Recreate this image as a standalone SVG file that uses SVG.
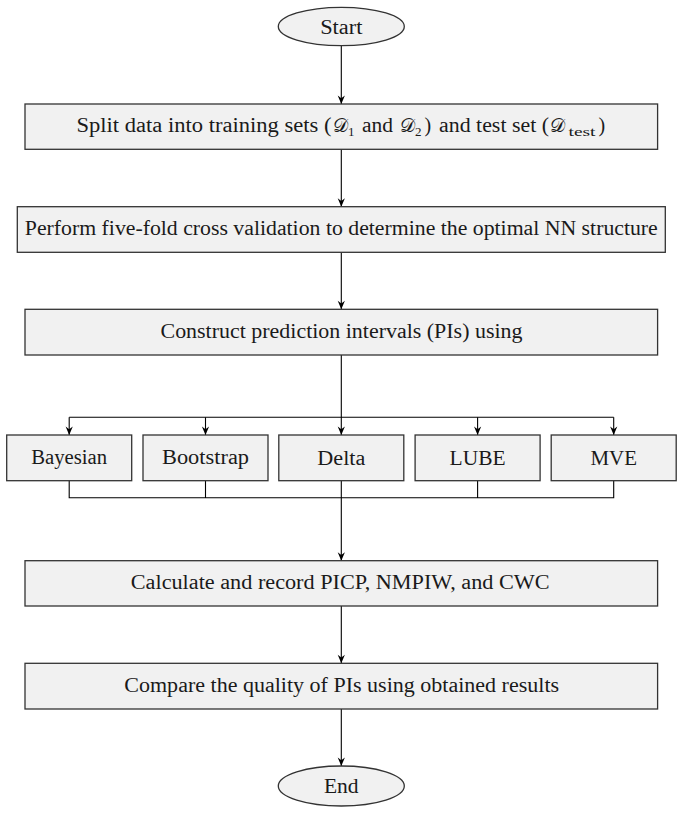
<svg xmlns="http://www.w3.org/2000/svg" width="683" height="813" viewBox="0 0 683 813">
<style>
  .box { fill:#f1f1f1; stroke:#333333; stroke-width:1.3; }
  .t { font-family:"Liberation Serif","Times New Roman",serif; font-size:20px; fill:#1a1a1a; }
  .sub { font-family:"Liberation Serif","Times New Roman",serif; font-size:13px; fill:#1a1a1a; }
  .cal { font-family:"DejaVu Serif","DejaVu Sans","Noto Sans",serif; font-size:19px; fill:#1a1a1a; }
  .c { fill:none; stroke:#000; stroke-width:1.1; }
</style>
<defs>
  <marker id="arr" viewBox="-9 -5 10 10" refX="0" refY="0" markerWidth="10" markerHeight="10" orient="auto" markerUnits="userSpaceOnUse">
    <path d="M0,0 L-8.5,-3.6 L-5.8,0 L-8.5,3.6 Z" fill="#000"/>
  </marker>
</defs>
<rect width="683" height="813" fill="#ffffff"/>

<g id="connectors">
  <line class="c" x1="341.3" y1="45.7" x2="341.3" y2="104" marker-end="url(#arr)"/>
  <line class="c" x1="341.3" y1="149.3" x2="341.3" y2="206.7" marker-end="url(#arr)"/>
  <line class="c" x1="341.3" y1="252.3" x2="341.3" y2="309.3" marker-end="url(#arr)"/>
  <line class="c" x1="341.3" y1="355" x2="341.3" y2="435" marker-end="url(#arr)"/>
  <line class="c" x1="69.2" y1="417.3" x2="613.7" y2="417.3"/>
  <line class="c" x1="69.2" y1="417.3" x2="69.2" y2="435" marker-end="url(#arr)"/>
  <line class="c" x1="205.5" y1="417.3" x2="205.5" y2="435" marker-end="url(#arr)"/>
  <line class="c" x1="477.6" y1="417.3" x2="477.6" y2="435" marker-end="url(#arr)"/>
  <line class="c" x1="613.7" y1="417.3" x2="613.7" y2="435" marker-end="url(#arr)"/>
  <path class="c" d="M69.2,480.7 V497.7 H613.7 V480.7 M205.5,480.7 V497.7 M477.6,480.7 V497.7"/>
  <line class="c" x1="341.3" y1="480.7" x2="341.3" y2="560.7" marker-end="url(#arr)"/>
  <line class="c" x1="341.3" y1="606" x2="341.3" y2="663.3" marker-end="url(#arr)"/>
  <line class="c" x1="341.3" y1="709" x2="341.3" y2="766" marker-end="url(#arr)"/>
</g>

<g id="start">
  <ellipse class="box" cx="341.3" cy="26.5" rx="63" ry="19.2"/>
  <text class="t" x="341.3" y="33.5" text-anchor="middle" textLength="42.3" lengthAdjust="spacingAndGlyphs">Start</text>
</g>

<g id="split">
  <rect class="box" x="25" y="104" width="632.6" height="45.3"/>
  <text class="t" x="76.5" y="132.3" textLength="255" lengthAdjust="spacingAndGlyphs">Split data into training sets (</text>
  <text class="cal" x="333" y="132.3">𝒟</text>
  <text class="sub" x="348" y="135.5">1</text>
  <text class="t" x="362" y="132.3" textLength="31" lengthAdjust="spacingAndGlyphs">and</text>
  <text class="cal" x="400" y="132.3">𝒟</text>
  <text class="sub" x="415" y="135.5">2</text>
  <text class="t" x="424.5" y="132.3">)</text>
  <text class="t" x="439" y="132.3" textLength="110" lengthAdjust="spacingAndGlyphs">and test set (</text>
  <text class="cal" x="550" y="132.3">𝒟</text>
  <text class="sub" x="568.5" y="135.5" textLength="27" lengthAdjust="spacingAndGlyphs">test</text>
  <text class="t" x="598.5" y="132.3">)</text>
</g>

<g id="cv">
  <rect class="box" x="17.3" y="206.7" width="648" height="45.6"/>
  <text class="t" x="341.3" y="235" text-anchor="middle" textLength="633" lengthAdjust="spacingAndGlyphs">Perform five-fold cross validation to determine the optimal NN structure</text>
</g>

<g id="construct">
  <rect class="box" x="25" y="309.3" width="632.6" height="45.7"/>
  <text class="t" x="341.5" y="337.7" text-anchor="middle" textLength="362" lengthAdjust="spacingAndGlyphs">Construct prediction intervals (PIs) using</text>
</g>

<g id="bayesian">
  <rect class="box" x="6.7" y="435" width="125" height="45.7"/>
  <text class="t" x="69.2" y="463.5" text-anchor="middle" textLength="76" lengthAdjust="spacingAndGlyphs">Bayesian</text>
</g>
<g id="bootstrap">
  <rect class="box" x="143" y="435" width="125" height="45.7"/>
  <text class="t" x="205.5" y="463.5" text-anchor="middle" textLength="87" lengthAdjust="spacingAndGlyphs">Bootstrap</text>
</g>
<g id="delta">
  <rect class="box" x="278.8" y="435" width="125" height="45.7"/>
  <text class="t" x="341.3" y="464.5" text-anchor="middle" textLength="48" lengthAdjust="spacingAndGlyphs">Delta</text>
</g>
<g id="lube">
  <rect class="box" x="415.1" y="435" width="125" height="45.7"/>
  <text class="t" x="477.6" y="464.5" text-anchor="middle" textLength="56" lengthAdjust="spacingAndGlyphs">LUBE</text>
</g>
<g id="mve">
  <rect class="box" x="551.2" y="435" width="125" height="45.7"/>
  <text class="t" x="613.7" y="464.5" text-anchor="middle" textLength="46.5" lengthAdjust="spacingAndGlyphs">MVE</text>
</g>

<g id="calculate">
  <rect class="box" x="25" y="560.7" width="632.6" height="45.3"/>
  <text class="t" x="340.2" y="589" text-anchor="middle" textLength="418.8" lengthAdjust="spacingAndGlyphs">Calculate and record PICP, NMPIW, and CWC</text>
</g>

<g id="compare">
  <rect class="box" x="25" y="663.3" width="632.6" height="45.7"/>
  <text class="t" x="341.7" y="691.7" text-anchor="middle" textLength="434.8" lengthAdjust="spacingAndGlyphs">Compare the quality of PIs using obtained results</text>
</g>

<g id="end">
  <ellipse class="box" cx="341.3" cy="786" rx="63" ry="20"/>
  <text class="t" x="341.3" y="793.3" text-anchor="middle" textLength="34.7" lengthAdjust="spacingAndGlyphs">End</text>
</g>
</svg>
